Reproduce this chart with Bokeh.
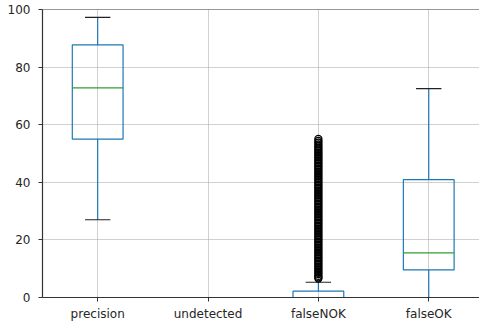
from bokeh.plotting import figure
from bokeh.models import FixedTicker, Span, ColumnDataSource
from bokeh.embed import file_html
from bokeh.resources import INLINE

categories = ["precision", "undetected", "falseNOK", "falseOK"]
positions = [1, 2, 3, 4]
# box statistics (None for empty column "undetected")
q1 = [55.0, None, 0.0, 9.6]
median = [72.8, None, 0.0, 15.5]
q3 = [87.7, None, 2.2, 40.9]
whisk_lo = [27.0, None, 0.0, 0.0]
whisk_hi = [97.3, None, 5.3, 72.5]
# outliers of falseNOK
falsenok_outliers = [6.6, 7.0, 7.5, 8.1, 8.6, 9.1, 9.6, 10.2, 10.7, 11.3, 11.8, 12.4,
                     12.9, 13.5, 14.0, 14.6, 15.1, 15.7, 16.2, 16.8, 17.3, 17.9, 18.4,
                     19.0, 19.5, 20.1, 20.6, 21.2, 21.7, 22.3, 22.8, 23.4, 23.9, 24.5,
                     25.0, 25.6, 26.1, 26.7, 27.2, 27.8, 28.3, 28.9, 29.4, 30.0, 30.5,
                     31.1, 31.6, 32.2, 32.7, 33.3, 33.8, 34.4, 34.9, 35.5, 36.0, 36.6,
                     37.1, 37.7, 38.2, 38.8, 39.3, 39.9, 40.4, 41.0, 41.5, 42.1, 42.6,
                     43.2, 43.7, 44.3, 44.8, 45.4, 45.9, 46.5, 47.0, 47.6, 48.1, 48.7,
                     49.2, 49.8, 50.3, 50.9, 51.4, 52.0, 52.6, 53.2, 53.8, 54.4, 55.1]

BOX_W = 0.46
CAP_W = 0.23

p = figure(frame_width=437, frame_height=288, output_backend="svg", toolbar_location=None,
           x_range=(0.5, 4.46), y_range=(0, 100),
           min_border_left=42, min_border_right=0, min_border_top=9, min_border_bottom=25)
p.outline_line_color = None
p.background_fill_color = "white"
p.border_fill_color = "white"

idx = [i for i in range(len(categories)) if q1[i] is not None]
xs = [positions[i] for i in idx]
src = ColumnDataSource(dict(
    x=xs,
    left=[positions[i] - BOX_W / 2 for i in idx],
    right=[positions[i] + BOX_W / 2 for i in idx],
    cl=[positions[i] - CAP_W / 2 for i in idx],
    cr=[positions[i] + CAP_W / 2 for i in idx],
    q1=[q1[i] for i in idx], q3=[q3[i] for i in idx],
    med=[median[i] for i in idx],
    lo=[whisk_lo[i] for i in idx], hi=[whisk_hi[i] for i in idx],
))

blue = "#1f77b4"
p.segment(x0="x", y0="q3", x1="x", y1="hi", source=src, line_color=blue, line_width=1.2)
p.segment(x0="x", y0="lo", x1="x", y1="q1", source=src, line_color=blue, line_width=1.2)
p.quad(left="left", right="right", bottom="q1", top="q3", source=src,
       fill_color=None, line_color=blue, line_width=1.2)
p.segment(x0="left", y0="med", x1="right", y1="med", source=src, line_color="#2ca02c", line_width=1.2)
p.segment(x0="cl", y0="hi", x1="cr", y1="hi", source=src, line_color="#222222", line_width=1.2)
p.segment(x0="cl", y0="lo", x1="cr", y1="lo", source=src, line_color="#222222", line_width=1.2)
p.scatter(x=[3] * len(falsenok_outliers), y=falsenok_outliers, marker="circle", size=7,
          fill_color=None, line_color="black", line_width=1.3)

p.add_layout(Span(location=100, dimension="width", line_color="#333333", line_width=1.2))

p.xaxis.ticker = FixedTicker(ticks=positions)
p.xgrid.ticker = FixedTicker(ticks=positions)
p.xaxis.major_label_overrides = {pos: c for pos, c in zip(positions, categories)}
p.yaxis.ticker = FixedTicker(ticks=[0, 20, 40, 60, 80, 100])
p.ygrid.ticker = FixedTicker(ticks=[0, 20, 40, 60, 80, 100])

for ax in (p.xaxis[0], p.yaxis[0]):
    ax.axis_line_color = "#333333"
    ax.axis_line_width = 1.2
    ax.major_tick_line_color = "#333333"
    ax.major_tick_out = 4
    ax.major_tick_in = 0
    ax.minor_tick_line_color = None
    ax.major_label_text_font = "DejaVu Sans"
    ax.major_label_text_font_size = "12px"
    ax.major_label_text_color = "#262626"
    ax.axis_label_standoff = 0
p.yaxis.major_label_standoff = 8
p.xaxis.major_label_standoff = 5

for g in (p.xgrid[0], p.ygrid[0]):
    g.grid_line_color = "#b0b0b0"
    g.grid_line_alpha = 0.6
    g.grid_line_width = 1

open("out.html", "w").write(file_html(p, INLINE))
